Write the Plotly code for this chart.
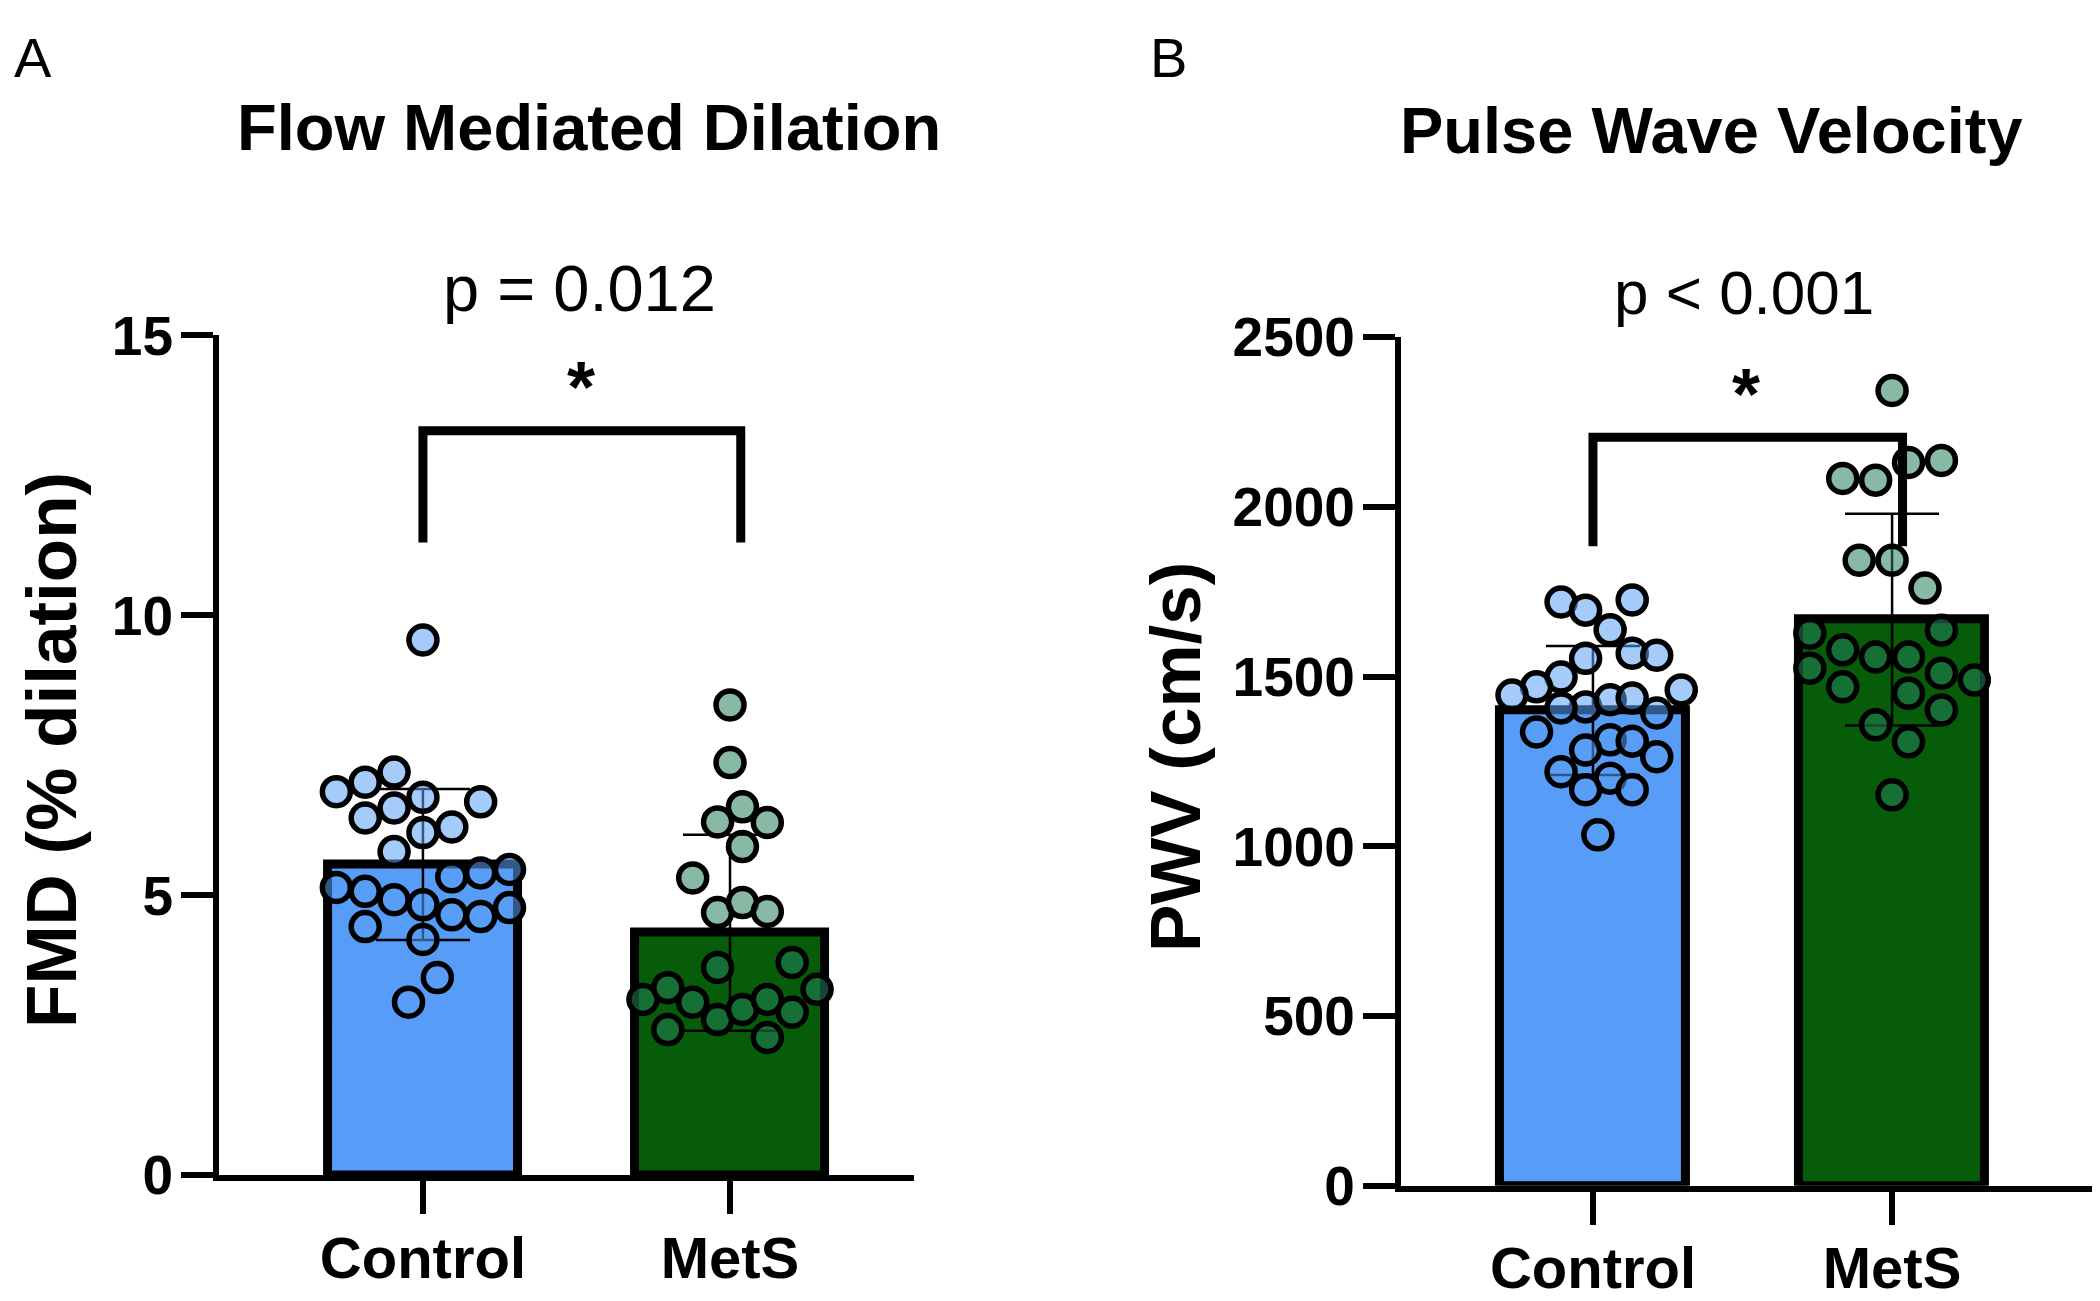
import plotly.graph_objects as go

# groups shared by both panels
groups = ["Control", "MetS"]

# Panel A: flow mediated dilation (% dilation)
fmd_mean = [5.55, 4.33]
fmd_sd = [1.35, 1.75]
fmd_control = [9.56, 6.85, 7.02, 7.20, 6.75, 6.67, 6.38, 6.56, 6.12, 6.22,
               5.78, 5.14, 5.07, 4.92, 4.83, 5.33, 5.40, 5.46, 4.65, 4.62,
               4.78, 4.44, 4.21, 3.53, 3.09]
fmd_control_col = [0, -3, -2, -1, 0, 2, -2, -1, 0, 1,
                   -1, -3, -2, -1, 0, 1, 2, 3, 1, 2,
                   3, -2, 0, 0.5, -0.5]
fmd_mets = [8.40, 7.37, 6.31, 6.58, 6.30, 5.87, 5.31, 4.69, 4.87, 4.71,
            3.71, 3.80, 3.14, 3.35, 3.09, 2.78, 2.96, 3.14, 2.91, 3.32,
            2.60, 2.46]
fmd_mets_col = [0, 0, -0.5, 0.5, 1.5, 0.5, -1.5, -0.5, 0.5, 1.5,
                -0.5, 2.5, -3.5, -2.5, -1.5, -0.5, 0.5, 1.5, 2.5, 3.5,
                -2.5, 1.5]

# Panel B: pulse wave velocity (cm/s)
pwv_mean = [1400, 1668]
pwv_sd = [190, 312]
pwv_control = [1720, 1696, 1726, 1638, 1569, 1563, 1554, 1499, 1470, 1446,
               1461, 1411, 1432, 1437, 1408, 1393, 1337, 1314, 1310, 1284,
               1264, 1220, 1201, 1167, 1167, 1034]
pwv_control_col = [-1.3, -0.3, 1.6, 0.7, 1.6, 2.6, -0.3, -1.3, -2.3, -3.3,
                   3.6, -0.3, 0.7, 1.6, -1.3, 2.6, -2.3, 0.7, 1.6, -0.3,
                   2.6, -1.3, 0.7, -0.3, 1.6, 0.2]
pwv_mets = [2343, 2084, 2079, 2131, 2137, 1843, 1843, 1761, 1628, 1637,
            1579, 1558, 1558, 1525, 1510, 1490, 1470, 1451, 1402, 1358,
            1308, 1152]
pwv_mets_col = [0, -1.5, -0.5, 0.5, 1.5, -1.0, 0, 1.0, -2.5, 1.5,
                -1.5, -0.5, 0.5, -2.5, 1.5, 2.5, -1.5, 0.5, 1.5, -0.5,
                0.5, 0]

FONT = "Liberation Sans, Arial, sans-serif"
BAR_COLORS = ["#579CF6", "#065C08"]
DOT_COLORS = ["rgba(90,160,245,0.55)", "rgba(37,128,91,0.55)"]

fig = go.Figure()


def add_panel(fig, xa, ya, means, sds, pts, cols, steps, bracket):
    fig.add_trace(go.Bar(
        x=[0, 1], y=means, width=0.62, xaxis=xa, yaxis=ya,
        marker=dict(color=BAR_COLORS, line=dict(color="black", width=9)),
        error_y=dict(type="data", array=sds, color="black", thickness=2.5, width=47),
        showlegend=False,
    ))
    for g in range(2):
        fig.add_trace(go.Scatter(
            x=[g + c * steps[g] for c in cols[g]], y=pts[g], xaxis=xa, yaxis=ya,
            mode="markers", cliponaxis=False, showlegend=False,
            marker=dict(size=28, color=DOT_COLORS[g], line=dict(color="black", width=5.5)),
        ))
    leg, top = bracket
    fig.add_trace(go.Scatter(
        x=[0, 0, 1.035, 1.035], y=[leg, top, top, leg], xaxis=xa, yaxis=ya,
        mode="lines", line=dict(color="black", width=9), showlegend=False,
        cliponaxis=False,
    ))


add_panel(fig, "x", "y", fmd_mean, fmd_sd, [fmd_control, fmd_mets],
          [fmd_control_col, fmd_mets_col], [0.094, 0.081], (11.3, 13.3))
add_panel(fig, "x2", "y2", pwv_mean, pwv_sd, [pwv_control, pwv_mets],
          [pwv_control_col, pwv_mets_col], [0.082, 0.11], (1884, 2205))

xcommon = dict(tickvals=[0, 1], ticktext=groups, showline=True, linewidth=6,
               linecolor="black", ticks="outside", ticklen=33, tickwidth=6,
               tickcolor="black", showgrid=False, zeroline=False,
               tickfont=dict(family=FONT, size=58, color="black", weight="bold"),
               ticklabelstandoff=-6)
ycommon = dict(showline=True, linewidth=6, linecolor="black", ticks="outside",
               ticklen=32, tickwidth=6, tickcolor="black", showgrid=False,
               zeroline=False,
               tickfont=dict(family=FONT, size=55, color="black", weight="bold"),
               ticklabelstandoff=-3)

fig.update_layout(
    width=2100, height=1301,
    margin=dict(l=0, r=0, t=0, b=0),
    paper_bgcolor="white", plot_bgcolor="white",
    font=dict(family=FONT, color="black"),
    bargap=0,
    xaxis=dict(domain=[0.1005, 0.4314], range=[-0.664, 1.599], anchor="y", **xcommon),
    yaxis=dict(domain=[0.0830, 0.7607], range=[0, 15], tickvals=[0, 5, 10, 15],
               anchor="x", **ycommon),
    xaxis2=dict(domain=[0.6633, 0.9929], range=[-0.642, 1.672], anchor="y2", **xcommon),
    yaxis2=dict(domain=[0.0744, 0.7593], range=[0, 2500],
                tickvals=[0, 500, 1000, 1500, 2000, 2500], anchor="x2", **ycommon),
)

bold = dict(family=FONT, color="black", weight="bold")
regular = dict(family=FONT, color="black")
annotations = [
    dict(text="A", x=0.0120, y=0.985, xref="paper", yref="paper", font=dict(size=56, **regular)),
    dict(text="B", x=0.5527, y=0.985, xref="paper", yref="paper", font=dict(size=56, **regular)),
    dict(text="Flow Mediated Dilation", x=0.2766, y=0.9283, xref="paper", yref="paper",
         font=dict(size=65, **bold)),
    dict(text="Pulse Wave Velocity", x=0.8110, y=0.9259, xref="paper", yref="paper",
         font=dict(size=65, **bold)),
    dict(text="FMD (% dilation)", x=0.0210, y=0.4263, xref="paper", yref="paper",
         textangle=-90, font=dict(size=71, **bold)),
    dict(text="PWV (cm/s)", x=0.5563, y=0.4206, xref="paper", yref="paper",
         textangle=-90, font=dict(size=71, **bold)),
    dict(text="p = 0.012", x=0.51, y=0.7985, xref="x", yref="paper", font=dict(size=65, **regular)),
    dict(text="p < 0.001", x=0.505, y=0.7953, xref="x2", yref="paper", font=dict(size=62, **regular)),
    dict(text="*", x=0.515, y=14.37, xref="x", yref="y", yshift=-16, font=dict(size=72, **bold)),
    dict(text="*", x=0.51, y=2380, xref="x2", yref="y2", yshift=-16, font=dict(size=72, **bold)),
]
for a in annotations:
    a.update(showarrow=False, xanchor="center", yanchor="middle")
fig.update_layout(annotations=annotations)

fig.write_html("out.html")
